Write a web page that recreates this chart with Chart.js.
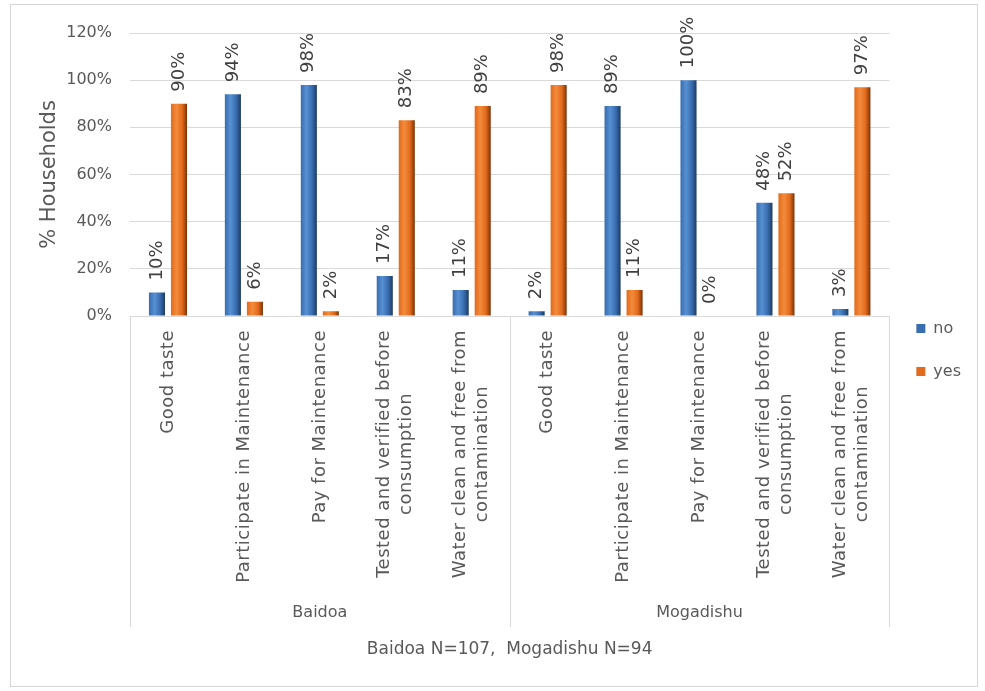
<!DOCTYPE html>
<html>
<head>
<meta charset="utf-8">
<title>Water perceptions by city</title>
<script src="https://cdn.jsdelivr.net/npm/chart.js@4.4.1/dist/chart.umd.min.js"></script>
<style>
  html, body { margin: 0; padding: 0; background: #fff; }
  #frame { position: absolute; left: 10px; top: 4px; width: 966px; height: 681px; border: 1px solid #d6d6d6; }
  #wrap { position: absolute; left: 0; top: 0; width: 985px; height: 691px; }
</style>
</head>
<body>
<div id="frame"></div>
<div id="wrap"><canvas id="chart" width="985" height="691"></canvas></div>
<script>
// data
const cities = ["Baidoa", "Mogadishu"];
const questions = [
  ["Good taste"],
  ["Participate in Maintenance"],
  ["Pay for Maintenance"],
  ["Tested and verified before", "consumption"],
  ["Water clean and free from", "contamination"]
];
const catLabels = cities.flatMap(() => questions);
const noValues  = [10, 94, 98, 17, 11, 2, 89, 100, 48, 3];
const yesValues = [90, 6, 2, 83, 89, 98, 11, 0, 52, 97];
const yTicks = [0, 20, 40, 60, 80, 100, 120];
const xTitle = "Baidoa N=107,  Mogadishu N=94";

const FONT = '"DejaVu Sans", sans-serif';
const TEXT = '#595959';
const GRID = '#d9d9d9';
const CAT_PCT = 0.58, BAR_PCT = 0.73;
const noColor = ['#386db0', '#5790d2', '#1d3a62'];
const yesColor = ['#e26a1c', '#f38b3b', '#7a3408'];

// cylinder-ish shading like the excel bars
function barFill([base, light, dark]) {
  return (c) => {
    const xs = c.chart.scales.x;
    if (c.type !== 'data' || !xs) return base;
    const slot = xs.width / catLabels.length * CAT_PCT / 2;
    const cx = xs.getPixelForValue(c.dataIndex) + (c.datasetIndex - 0.5) * slot;
    const w = slot * BAR_PCT;
    if (!Number.isFinite(cx) || !Number.isFinite(w) || w <= 0) return base;
    const g = c.chart.ctx.createLinearGradient(cx - w / 2, 0, cx + w / 2, 0);
    g.addColorStop(0, base);
    g.addColorStop(0.35, light);
    g.addColorStop(0.7, base);
    g.addColorStop(1, dark);
    return g;
  };
}

const valueLabels = {
  id: 'valueLabels',
  afterDatasetsDraw(chart) {
    const ctx = chart.ctx;
    ctx.save();
    ctx.font = '18px ' + FONT;
    ctx.fillStyle = '#404040';
    ctx.textAlign = 'left';
    ctx.textBaseline = 'middle';
    chart.data.datasets.forEach((ds, di) => {
      chart.getDatasetMeta(di).data.forEach((bar, i) => {
        ctx.save();
        ctx.translate(bar.x, bar.y - 12);
        ctx.rotate(-Math.PI / 2);
        ctx.fillText(ds.data[i] + '%', 0, 0);
        ctx.restore();
      });
    });
    ctx.restore();
  }
};

const groupAxis = {
  id: 'groupAxis',
  afterDraw(chart) {
    const xs = chart.scales.x;
    const ctx = chart.ctx;
    ctx.save();
    ctx.fillStyle = TEXT;
    ctx.font = '18px ' + FONT;
    ctx.letterSpacing = '0.5px';
    ctx.textAlign = 'center';
    ctx.textBaseline = 'middle';
    catLabels.forEach((lines, i) => {
      const x = xs.getPixelForTick(i);
      const w = ctx.measureText(lines[0]).width;
      ctx.save();
      ctx.translate(x, xs.top + 14);
      ctx.rotate(-Math.PI / 2);
      lines.forEach((line, j) => {
        ctx.fillText(line, -w / 2, (j - (lines.length - 1) / 2) * 22);
      });
      ctx.restore();
    });
    ctx.letterSpacing = '0px';

    // city separators + names
    const per = questions.length;
    ctx.strokeStyle = GRID;
    ctx.lineWidth = 1;
    ctx.font = '16px ' + FONT;
    for (let g = 0; g <= cities.length; g++) {
      const x = Math.round(xs.getPixelForValue(g * per - 0.5)) + 0.5;
      ctx.beginPath();
      ctx.moveTo(x, xs.top);
      ctx.lineTo(x, xs.top + 311);
      ctx.stroke();
      if (g < cities.length) {
        const mid = xs.getPixelForValue(g * per + (per - 1) / 2);
        ctx.fillText(cities[g], mid, xs.top + 297);
      }
    }
    ctx.restore();
  }
};

new Chart(document.getElementById('chart'), {
  type: 'bar',
  data: {
    labels: catLabels.map(l => l.join(' ')),
    datasets: [
      { label: 'no', data: noValues, backgroundColor: barFill(noColor) },
      { label: 'yes', data: yesValues, backgroundColor: barFill(yesColor) }
    ]
  },
  options: {
    responsive: false,
    animation: false,
    layout: { padding: { top: 33, left: 0, right: 14, bottom: 24 } },
    datasets: { bar: { categoryPercentage: CAT_PCT, barPercentage: BAR_PCT } },
    plugins: {
      legend: {
        position: 'right',
        labels: {
          boxWidth: 9, boxHeight: 9, padding: 27, color: TEXT, font: { family: FONT, size: 16 },
          generateLabels: (chart) => Chart.defaults.plugins.legend.labels.generateLabels(chart)
            .map((item, i) => Object.assign(item, { fillStyle: [noColor, yesColor][i][0], strokeStyle: 'transparent', lineWidth: 0 }))
        }
      },
      tooltip: { enabled: false }
    },
    scales: {
      x: {
        grid: { display: false },
        border: { display: true, color: GRID },
        ticks: { display: false },
        title: { display: true, text: xTitle, color: TEXT, font: { family: FONT, size: 17 }, padding: { top: 0, bottom: 7 } },
        afterFit: (s) => { s.height = 351; }
      },
      y: {
        min: 0, max: 120,
        afterBuildTicks: (s) => { s.ticks = yTicks.map(v => ({ value: v })); },
        ticks: { callback: v => v + '%', color: TEXT, padding: 18, font: { family: FONT, size: 16 } },
        grid: { color: GRID, drawTicks: false },
        border: { display: false },
        title: { display: true, text: '% Households', color: TEXT, font: { family: FONT, size: 21 }, padding: { top: 37, bottom: 0 } },
        afterFit: (s) => { s.width = 130; }
      }
    }
  },
  plugins: [valueLabels, groupAxis]
});
</script>
</body>
</html>
